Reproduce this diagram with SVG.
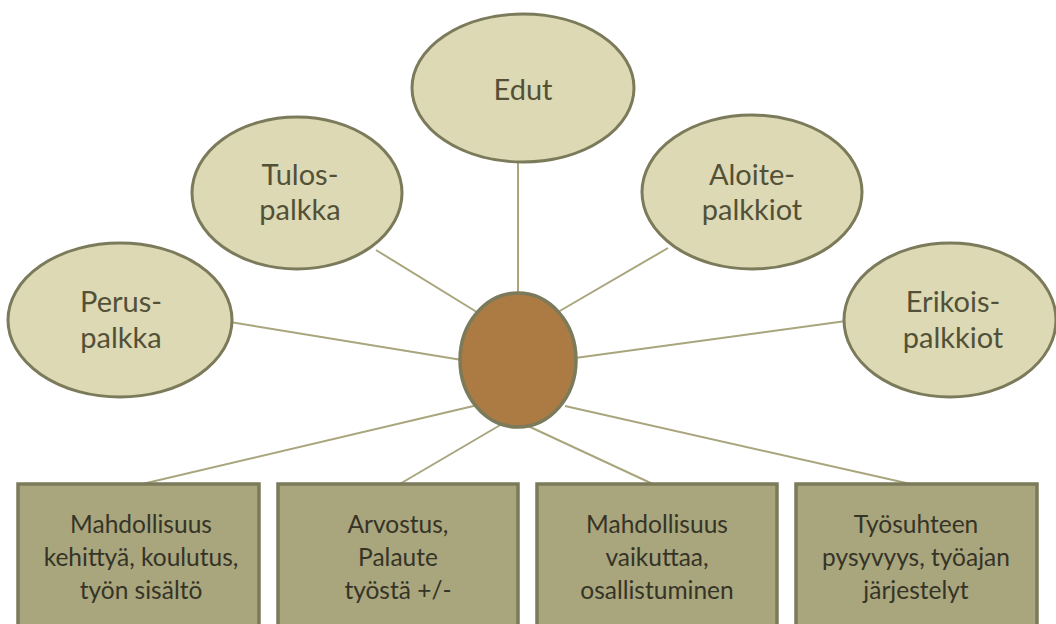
<svg xmlns="http://www.w3.org/2000/svg" width="1056" height="624" viewBox="0 0 1056 624">
  <style>
    .oval { fill: #ddd9b4; stroke: #7b7a5a; stroke-width: 3; }
    .hub { fill: #ab7b43; stroke: #7b7a5a; stroke-width: 3.5; }
    .box { fill: #a9a57d; stroke: #7b7a5a; stroke-width: 3.5; }
    .link { stroke: #a9a57d; stroke-width: 2; fill: none; }
    .olabel { font-family: Lato, "Open Sans", sans-serif; font-size: 29px; fill: #525138; text-anchor: middle; }
    .blabel { font-family: Lato, "Open Sans", sans-serif; font-size: 24.5px; fill: #353427; text-anchor: middle; }
  </style>
  <rect width="1056" height="624" fill="#ffffff"/>

  <g id="connectors">
    <line class="link" x1="518" y1="158" x2="518" y2="296"/>
    <line class="link" x1="376" y1="250" x2="480" y2="314"/>
    <line class="link" x1="668" y1="248" x2="558" y2="312"/>
    <line class="link" x1="230" y1="322" x2="462" y2="360"/>
    <line class="link" x1="846" y1="321" x2="575" y2="358"/>
    <line class="link" x1="138" y1="485" x2="482" y2="404"/>
    <line class="link" x1="398" y1="485" x2="502" y2="424"/>
    <line class="link" x1="655" y1="485" x2="528" y2="426"/>
    <line class="link" x1="915" y1="485" x2="565" y2="406"/>
  </g>

  <g id="edut">
    <ellipse class="oval" cx="523" cy="88" rx="111" ry="74"/>
    <text class="olabel" x="523" y="100">Edut</text>
  </g>
  <g id="tulospalkka">
    <ellipse class="oval" cx="297" cy="193" rx="105" ry="76"/>
    <text class="olabel" x="300" y="185">Tulos-</text>
    <text class="olabel" x="300" y="220">palkka</text>
  </g>
  <g id="aloitepalkkiot">
    <ellipse class="oval" cx="752" cy="192" rx="110" ry="77"/>
    <text class="olabel" x="752" y="185">Aloite-</text>
    <text class="olabel" x="752" y="220">palkkiot</text>
  </g>
  <g id="peruspalkka">
    <ellipse class="oval" cx="120" cy="320" rx="112" ry="77"/>
    <text class="olabel" x="121" y="312">Perus-</text>
    <text class="olabel" x="121" y="348">palkka</text>
  </g>
  <g id="erikoispalkkiot">
    <ellipse class="oval" cx="950" cy="320" rx="106" ry="77"/>
    <text class="olabel" x="953" y="312">Erikois-</text>
    <text class="olabel" x="953" y="348">palkkiot</text>
  </g>

  <g id="keskus">
    <ellipse class="hub" cx="518" cy="360" rx="58" ry="67"/>
  </g>

  <g id="kehittyminen">
    <rect class="box" x="18" y="484" width="241" height="150"/>
    <text class="blabel" x="141" y="533">Mahdollisuus</text>
    <text class="blabel" x="141" y="566">kehittyä, koulutus,</text>
    <text class="blabel" x="141" y="599">työn sisältö</text>
  </g>
  <g id="arvostus">
    <rect class="box" x="278" y="484" width="240" height="150"/>
    <text class="blabel" x="398" y="533">Arvostus,</text>
    <text class="blabel" x="398" y="566">Palaute</text>
    <text class="blabel" x="398" y="599">työstä +/-</text>
  </g>
  <g id="vaikuttaminen">
    <rect class="box" x="537" y="484" width="240" height="150"/>
    <text class="blabel" x="657" y="533">Mahdollisuus</text>
    <text class="blabel" x="657" y="566">vaikuttaa,</text>
    <text class="blabel" x="657" y="599">osallistuminen</text>
  </g>
  <g id="tyosuhde">
    <rect class="box" x="796" y="484" width="241" height="150"/>
    <text class="blabel" x="916" y="533">Työsuhteen</text>
    <text class="blabel" x="916" y="566">pysyvyys, työajan</text>
    <text class="blabel" x="916" y="599">järjestelyt</text>
  </g>
</svg>
